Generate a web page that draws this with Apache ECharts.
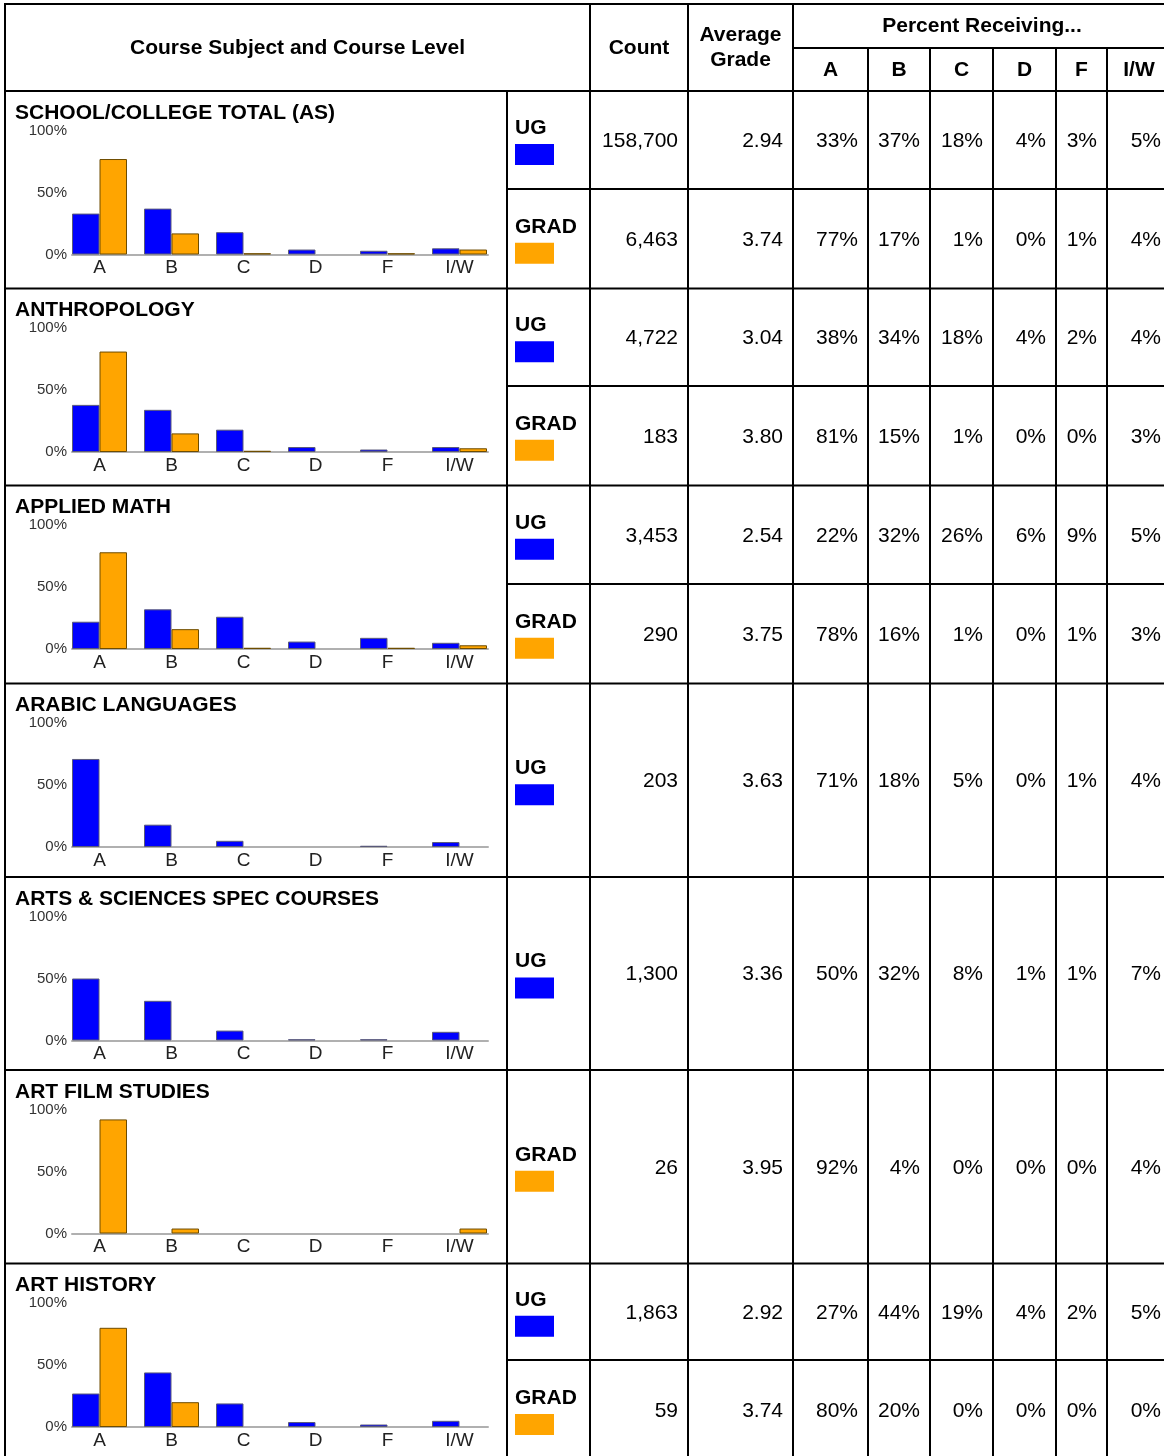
<!DOCTYPE html>
<html>
<head>
<meta charset="utf-8">
<script src="https://cdn.jsdelivr.net/npm/echarts@6/dist/echarts.min.js"></script>
<style>
html,body{margin:0;padding:0;background:#fff;}
#chart{width:1164px;height:1456px;}
</style>
</head>
<body>
<div id="chart"></div>
<script>
// ---- data ----
var subjects = ['SCHOOL/COLLEGE TOTAL (AS)', 'ANTHROPOLOGY', 'APPLIED MATH', 'ARABIC LANGUAGES',
                'ARTS & SCIENCES SPEC COURSES', 'ART FILM STUDIES', 'ART HISTORY'];
var grades = ['A', 'B', 'C', 'D', 'F', 'I/W'];
var levels = ['UG', 'GRAD'];
var percentTicks = [0, 50, 100];

var ugCount = ['158,700', '4,722', '3,453', '203', '1,300', null, '1,863'];
var ugAvg = ['2.94', '3.04', '2.54', '3.63', '3.36', null, '2.92'];
var ugPct = [
    [33, 37, 18, 4, 3, 5],
    [38, 34, 18, 4, 2, 4],
    [22, 32, 26, 6, 9, 5],
    [71, 18, 5, 0, 1, 4],
    [50, 32, 8, 1, 1, 7],
    null,
    [27, 44, 19, 4, 2, 5]
];
var gradCount = ['6,463', '183', '290', null, null, '26', '59'];
var gradAvg = ['3.74', '3.80', '3.75', null, null, '3.95', '3.74'];
var gradPct = [
    [77, 17, 1, 0, 1, 4],
    [81, 15, 1, 0, 0, 3],
    [78, 16, 1, 0, 1, 3],
    null,
    null,
    [92, 4, 0, 0, 0, 4],
    [80, 20, 0, 0, 0, 0]
];

// ---- layout of the table ----
var FONT = '"Liberation Sans", Arial, Helvetica, sans-serif';
var sectionTop = [91, 288.5, 485.5, 683.5, 877, 1070, 1263.5];
var rowSplit = [189, 386, 584, null, null, null, 1360];
var tableBottom = 1460;
var colLines = [590, 688, 793, 868, 930, 993, 1056, 1107, 1171];
var UG_COLOR = '#0000ff', GRAD_COLOR = '#ffa500';

var graphics = [];

function hline(x1, x2, y) {
    graphics.push({type: 'line', silent: true, z: 10,
        shape: {x1: x1, y1: y, x2: x2, y2: y}, style: {stroke: '#000', lineWidth: 2}});
}
function vline(x, y1, y2) {
    graphics.push({type: 'line', silent: true, z: 10,
        shape: {x1: x, y1: y1, x2: x, y2: y2}, style: {stroke: '#000', lineWidth: 2}});
}
function txt(s, x, y, align, bold, size, color) {
    graphics.push({type: 'text', silent: true, x: x, y: y, z: 11,
        style: {text: s, align: align, verticalAlign: 'middle', fill: color || '#000',
            font: (bold ? 'bold ' : '') + size + 'px ' + FONT}});
}

// outer frame and header
hline(4, 1172, 4);
hline(793, 1172, 48);
hline(4, 1172, 91);
vline(5, 3, tableBottom);
vline(507, 91, tableBottom);
for (var c = 0; c < colLines.length; c++) {
    vline(colLines[c], c < 3 ? 3 : 48, tableBottom);
}
txt('Course Subject and Course Level', 297.5, 48, 'center', true, 21);
txt('Count', 639, 48, 'center', true, 21);
txt('Average', 740.5, 35, 'center', true, 21);
txt('Grade', 740.5, 60, 'center', true, 21);
txt('Percent Receiving...', 982, 26, 'center', true, 21);
for (var g = 0; g < grades.length; g++) {
    txt(grades[g], (colLines[g + 2] + colLines[g + 3]) / 2, 70, 'center', true, 21);
}

function rowCells(level, count, avg, pct, rowTop, rowBottom) {
    var mid = (rowTop + rowBottom) / 2;
    txt(level, 515, mid - 12, 'left', true, 21);
    graphics.push({type: 'rect', silent: true, z: 11,
        shape: {x: 515, y: mid + 4, width: 39, height: 21},
        style: {fill: level === 'UG' ? UG_COLOR : GRAD_COLOR}});
    txt(count, colLines[1] - 10, mid + 1, 'right', false, 21);
    txt(avg, colLines[2] - 10, mid + 1, 'right', false, 21);
    for (var k = 0; k < pct.length; k++) {
        txt(pct[k] + '%', colLines[k + 3] - 10, mid + 1, 'right', false, 21);
    }
}

var grids = [], xAxes = [], yAxes = [], series = [];

function barData(arr) {
    // a 0% share draws no bar at all
    return grades.map(function (name, k) {
        return arr && arr[k] > 0 ? arr[k] : '-';
    });
}

for (var i = 0; i < subjects.length; i++) {
    var secTop = sectionTop[i];
    var secBottom = i + 1 < sectionTop.length ? sectionTop[i + 1] : tableBottom;
    hline(4, 1172, secTop);
    txt(subjects[i], 15, secTop + 22, 'left', true, 21);

    if (ugPct[i] && gradPct[i]) {
        hline(507, 1172, rowSplit[i]);
        rowCells(levels[0], ugCount[i], ugAvg[i], ugPct[i], secTop, rowSplit[i]);
        rowCells(levels[1], gradCount[i], gradAvg[i], gradPct[i], rowSplit[i], secBottom);
    } else if (ugPct[i]) {
        rowCells(levels[0], ugCount[i], ugAvg[i], ugPct[i], secTop, secBottom);
    } else {
        rowCells(levels[1], gradCount[i], gradAvg[i], gradPct[i], secTop, secBottom);
    }

    // bars grid (category axis holds the grade labels)
    grids.push({left: 63.5, width: 432, top: secTop + 39.5, height: 124});
    // baseline / percent scale grid
    grids.push({left: 72, width: 416, top: secTop + 39.5, height: 124});
    var gi = grids.length - 2;

    xAxes.push({
        type: 'category', gridIndex: gi, data: grades,
        axisLine: {show: false}, axisTick: {show: false},
        axisLabel: {fontSize: 19, color: '#222', margin: 4, fontFamily: FONT}
    });
    yAxes.push({type: 'value', gridIndex: gi, min: 0, max: 100, show: false});

    xAxes.push({
        type: 'value', gridIndex: gi + 1, min: 0, max: 1,
        axisLine: {show: true, lineStyle: {color: '#b0b0b0', width: 2}},
        axisTick: {show: false}, axisLabel: {show: false}, splitLine: {show: false}
    });
    yAxes.push({
        type: 'value', gridIndex: gi + 1, min: percentTicks[0], max: percentTicks[2],
        interval: percentTicks[1],
        axisLine: {show: false}, axisTick: {show: false}, splitLine: {show: false},
        axisLabel: {formatter: '{value}%', fontSize: 15, color: '#333', margin: 5, fontFamily: FONT}
    });

    series.push({
        name: levels[0], type: 'bar', xAxisIndex: gi, yAxisIndex: gi,
        data: barData(ugPct[i]), barWidth: 27.5, barGap: '0%', silent: true,
        itemStyle: {color: UG_COLOR, borderColor: '#5a5a7a', borderWidth: 1}
    });
    series.push({
        name: levels[1], type: 'bar', xAxisIndex: gi, yAxisIndex: gi,
        data: barData(gradPct[i]), barWidth: 27.5, barGap: '0%', silent: true,
        itemStyle: {color: GRAD_COLOR, borderColor: '#6e4c00', borderWidth: 1}
    });
}

var chart = echarts.init(document.getElementById('chart'), null, {renderer: 'canvas'});
chart.setOption({
    animation: false,
    backgroundColor: '#fff',
    textStyle: {fontFamily: FONT},
    grid: grids,
    xAxis: xAxes,
    yAxis: yAxes,
    series: series,
    graphic: graphics
});
</script>
</body>
</html>
